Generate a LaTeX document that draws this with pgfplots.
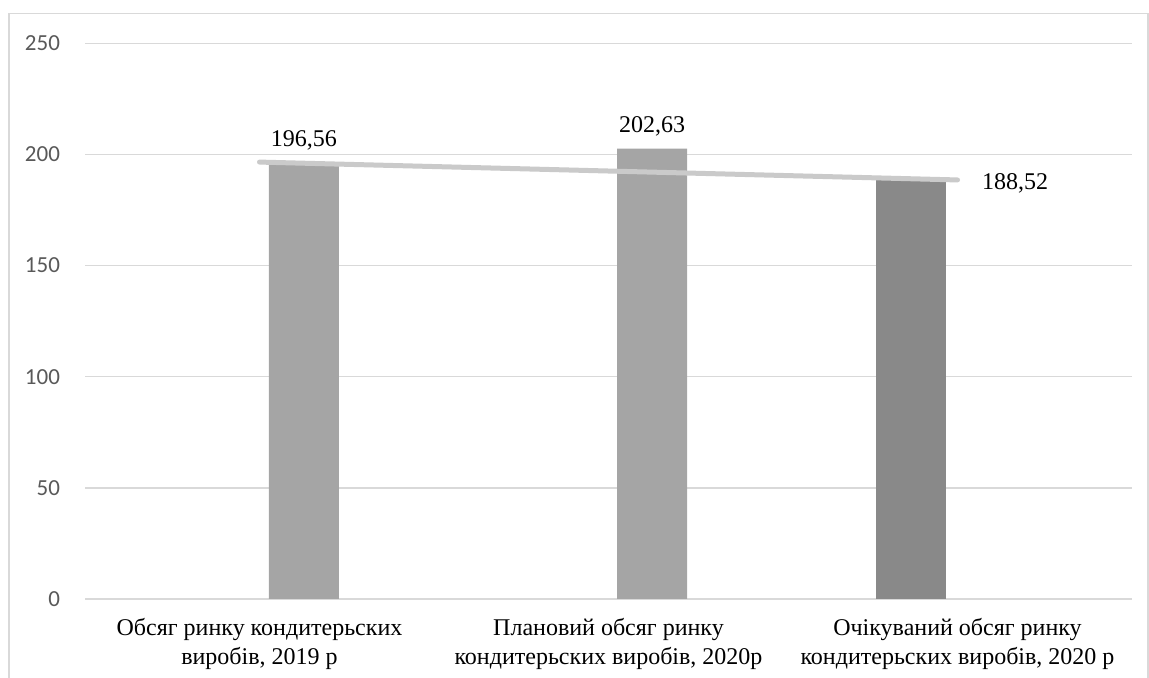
\documentclass[border=0pt]{standalone}
\usepackage{pgfplots}
\pgfplotsset{compat=1.18}
\usepackage{fontspec}
\setmainfont{Liberation Serif}
\newfontfamily\calibri{Carlito}
\definecolor{gridc}{HTML}{D9D9D9}
\definecolor{barA}{HTML}{A5A5A5}
\definecolor{barB}{HTML}{898989}
\definecolor{linec}{HTML}{CACACA}
\definecolor{tickc}{HTML}{595959}
\begin{document}
\begin{tikzpicture}
\useasboundingbox (0pt,0pt) rectangle (574.5pt,339pt);
\draw[gridc, line width=0.8pt] (4.5pt,-20pt) rectangle (573.9pt,332.3pt);
\begin{axis}[
  at={(42.5pt,39.5pt)}, anchor=south west,
  scale only axis, width=523.5pt, height=277.85pt,
  xmin=0, xmax=3, ymin=0, ymax=250,
  ytick={0,50,...,250},
  xtick={0.5,1.5,2.5},
  xticklabels={{Обсяг ринку кондитерьских\\виробів, 2019 р},{Плановий обсяг ринку\\кондитерьских виробів, 2020р},{Очікуваний обсяг ринку\\кондитерьских виробів, 2020 р}},
  xticklabel style={align=center, font=\fontsize{12}{14.5}\selectfont, text=black, yshift=-6pt},
  yticklabel style={font=\calibri\fontsize{11.5}{13}\selectfont, text=tickc, xshift=-9pt},
  /pgf/number format/assume math mode=true,
  ymajorgrids, grid style={gridc, line width=0.65pt},
  axis line style={draw=none}, tick style={draw=none}, major tick length=0pt,
  clip=false,
]
\addplot[ybar, bar width=35pt, bar shift=0pt, fill=barA, draw=none,
  point meta=explicit symbolic, nodes near coords,
  nodes near coords style={anchor=center, yshift=11pt, font=\fontsize{12}{14}\selectfont, text=black}]
  table[x=x, y=y, meta=lab] {
x y lab
0.627 196.56 196,56
1.625 202.63 202,63
};
\addplot[ybar, bar width=35pt, bar shift=0pt, fill=barB, draw=none]
  table[x=x, y=y] {
x y
2.368 188.52
};
\addplot[linec, line width=2.5pt, line cap=round, mark=none,
  point meta=explicit symbolic, nodes near coords,
  nodes near coords style={anchor=west, inner sep=0pt, xshift=11pt, yshift=-1.5pt, font=\fontsize{12}{14}\selectfont, text=black}]
  table[x=x, y=y, meta=lab] {
x y lab
0.5 196.56 {}
1.5 192.54 {}
2.5 188.52 188,52
};
\end{axis}
\end{tikzpicture}
\end{document}
